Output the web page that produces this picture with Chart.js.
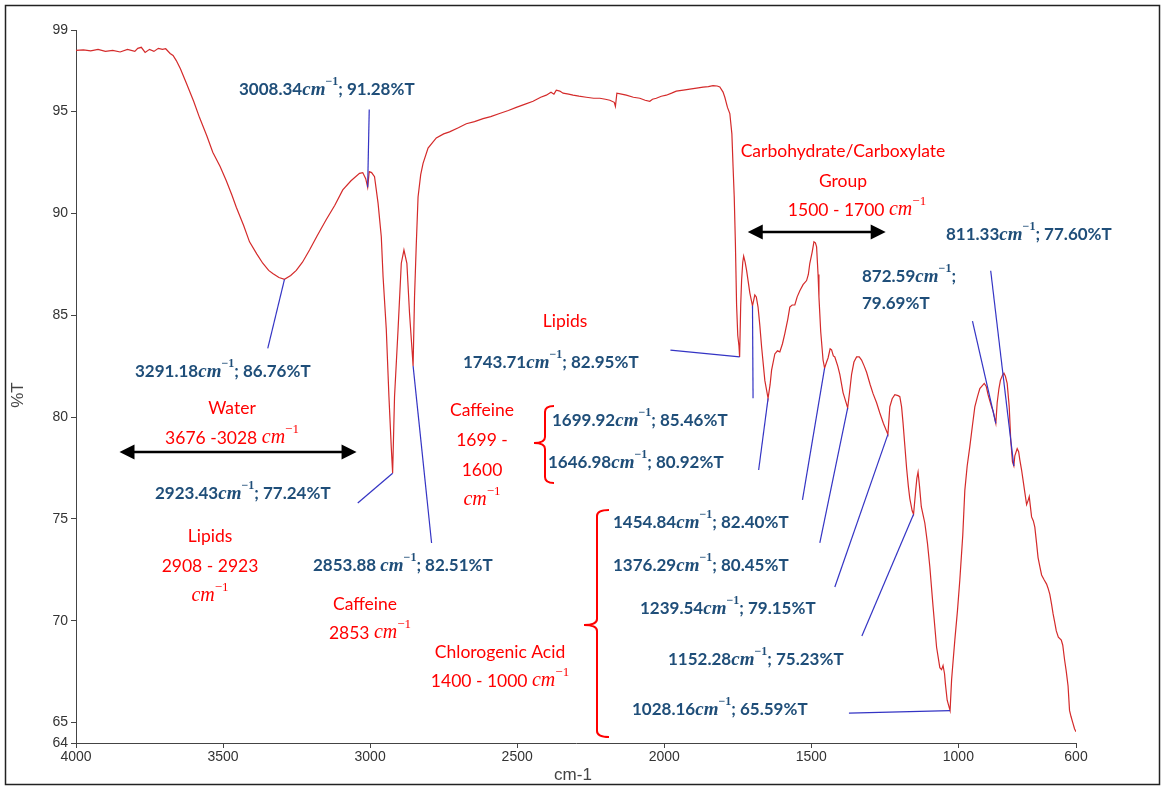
<!DOCTYPE html>
<html>
<head>
<meta charset="utf-8">
<script src="https://cdn.jsdelivr.net/npm/chart.js@4.4.0/dist/chart.umd.min.js"></script>
<style>
  html, body { margin: 0; padding: 0; background: #fff; }
  canvas { display: block; }
</style>
</head>
<body>
<canvas id="ftir" width="1164" height="787"></canvas>
<script>
// spectrum
const wavenumbers = [
  4000, 3975, 3950, 3925, 3900, 3875, 3850, 3825, 3800, 3790, 3778, 3765, 3750, 3735, 3720, 3706, 3695, 3680, 3670, 3659,
  3645, 3625, 3600, 3580, 3555, 3535, 3510, 3489, 3470, 3455, 3430, 3410, 3385, 3365, 3345, 3331, 3310, 3291.18, 3270, 3251,
  3230, 3206, 3180, 3149, 3120, 3093, 3065, 3036, 3025, 3015, 3008.34, 3003, 2995, 2985, 2973, 2962, 2956, 2945, 2936, 2928,
  2923.43, 2917, 2905, 2894, 2885, 2875, 2866, 2857, 2853.88, 2849, 2843, 2837, 2828, 2820, 2803, 2775, 2750, 2730, 2700, 2673,
  2645, 2616, 2590, 2560, 2530, 2503, 2475, 2446, 2420, 2401, 2385, 2375, 2367, 2355, 2344, 2325, 2310, 2290, 2265, 2240,
  2219, 2200, 2185, 2170, 2166, 2161, 2145, 2129, 2105, 2083, 2065, 2049, 2040, 2027, 2010, 1993, 1975, 1959, 1935, 1913,
  1890, 1868, 1850, 1834, 1820, 1811, 1800, 1794, 1785, 1777, 1770, 1766, 1762, 1758, 1754, 1750, 1746, 1743.71, 1740, 1737,
  1733, 1730, 1725, 1720, 1714, 1709, 1699.92, 1692, 1687, 1681, 1675, 1669, 1658, 1646.98, 1640, 1635, 1624, 1615, 1607, 1598,
  1590, 1580, 1573, 1565, 1556, 1548, 1539, 1528, 1516, 1510, 1505, 1497, 1491, 1486, 1482, 1477, 1474, 1468, 1460, 1454.84,
  1448, 1443, 1436, 1431, 1425, 1420, 1410, 1403, 1392, 1376.29, 1370, 1363, 1355, 1346, 1337, 1329, 1320, 1312, 1300, 1290,
  1278, 1267, 1255, 1239.54, 1233, 1225, 1216, 1205, 1199, 1193, 1188, 1182, 1176, 1170, 1165, 1157, 1152.28, 1145, 1141, 1137,
  1132, 1126, 1120, 1114, 1105, 1097, 1086, 1074, 1063, 1057, 1052, 1047, 1044, 1038, 1028.16, 1023, 1018, 1012, 1003, 995,
  985, 978, 970, 961, 952, 944, 935, 927, 912, 905, 899, 893, 887, 882, 872.59, 868, 862, 857, 850, 845,
  840, 834, 827, 822, 816, 811.33, 808, 800, 795, 791, 785, 780, 774, 768, 763, 759, 755, 751, 745, 740,
  734, 729, 722, 717, 708, 700, 695, 689, 683, 678, 672, 667, 660, 650, 645, 639, 633, 627, 622, 617,
  611, 605, 600
];
const transmittance = [
  98.0, 98.02, 97.98, 98.05, 97.95, 98.0, 97.92, 98.05, 97.95, 98.1, 98.15, 97.9, 98.05, 97.95, 98.1, 98.05, 98.08, 97.85, 97.75, 97.5,
  97.1, 96.4, 95.5, 94.7, 93.8, 93.0, 92.3, 91.6, 90.9, 90.3, 89.4, 88.6, 88.0, 87.55, 87.2, 87.05, 86.85, 86.76, 86.95, 87.2,
  87.6, 88.2, 88.9, 89.7, 90.4, 91.15, 91.6, 91.96, 92.0, 91.7, 91.28, 92.05, 92.0, 91.8, 90.5, 88.85, 86.9, 84.3, 81.0, 78.5,
  77.24, 81.0, 84.3, 87.55, 88.2, 87.55, 85.1, 83.2, 82.51, 85.9, 88.5, 90.8, 91.9, 92.45, 93.2, 93.7, 93.9, 94.0, 94.2, 94.4,
  94.5, 94.65, 94.75, 94.9, 95.05, 95.2, 95.35, 95.5, 95.7, 95.8, 95.95, 95.85, 96.05, 96.0, 95.9, 95.85, 95.8, 95.75, 95.7, 95.65,
  95.65, 95.6, 95.55, 95.45, 95.25, 95.9, 95.85, 95.8, 95.7, 95.65, 95.55, 95.5, 95.6, 95.65, 95.75, 95.8, 95.9, 96.0, 96.05, 96.1,
  96.15, 96.2, 96.22, 96.27, 96.25, 96.2, 95.95, 95.7, 95.2, 94.9, 93.9, 92.3, 90.8, 88.5, 85.5, 84.0, 83.5, 82.95, 85.5, 86.7,
  87.6, 87.9, 87.6, 87.2, 86.6, 86.1, 85.46, 86.0, 85.9, 85.4, 84.5, 83.45, 81.8, 80.92, 81.6, 82.3, 83.1, 83.25, 83.2, 83.6,
  84.1, 84.8, 85.4, 85.5, 85.5, 85.9, 86.2, 86.5, 86.7, 87.0, 87.55, 88.1, 88.6, 88.55, 88.35, 87.0, 85.9, 84.2, 82.8, 82.40,
  82.7, 82.9, 83.35, 83.3, 83.0, 82.95, 82.5, 82.1, 81.2, 80.45, 81.2, 82.1, 82.7, 82.95, 82.95, 82.8, 82.5, 82.2, 81.6, 81.15,
  80.7, 80.2, 79.7, 79.15, 80.5, 80.9, 81.1, 81.05, 81.0, 80.5, 79.7, 78.6, 77.5, 76.6, 76.0, 75.4, 75.23, 76.4, 77.0, 77.3,
  76.6, 75.6, 75.2, 74.8, 73.8, 72.65, 70.7, 68.7, 67.7, 67.6, 67.8, 67.4, 66.9, 66.1, 65.59, 67.1, 68.0, 69.05, 70.5, 72.0,
  74.2, 76.4, 77.6, 78.55, 79.6, 80.5, 81.0, 81.4, 81.65, 81.5, 81.1, 80.8, 80.5, 80.3, 79.69, 80.7, 81.4, 81.8, 82.05, 82.15,
  82.0, 81.65, 80.5, 78.9, 77.8, 77.60, 78.1, 78.45, 78.3, 77.9, 77.4, 76.9, 76.3, 75.7, 75.9, 76.1, 75.6, 75.1, 74.9, 74.6,
  73.8, 73.1, 72.6, 72.25, 72.0, 71.8, 71.6, 71.3, 70.8, 70.35, 69.9, 69.5, 69.2, 69.05, 68.8, 68.1, 67.5, 66.8, 65.6, 65.3,
  65.0, 64.7, 64.55
];

// labelled peaks
const peakWavenumbers = [3008.34, 3291.18, 2923.43, 2853.88, 1743.71, 1699.92, 1646.98, 1454.84, 1376.29, 1239.54, 1152.28, 1028.16, 872.59, 811.33];
const peakTransmittance = [91.28, 86.76, 77.24, 82.51, 82.95, 85.46, 80.92, 82.40, 80.45, 79.15, 75.23, 65.59, 79.69, 77.60];

const xTicks = [4000, 3500, 3000, 2500, 2000, 1500, 1000, 600];
const yTicks = [99, 95, 90, 85, 80, 75, 70, 65, 64];

// free end of each leader line (wavenumber, %T), same order as the peaks
const leaderEnds = [
  [3003, 95.1], [3348, 83.37], [3042, 75.78], [2791, 73.82], [1979, 83.29], [1698, 80.92], [1679, 77.4],
  [1530, 75.93], [1471, 73.82], [1420, 71.66], [1328, 69.25], [1372, 65.47], [952, 84.71], [890, 87.18]
];

// label boxes in page pixels: left x, middle y
const peakLabelPos = [
  [239, 90], [135, 372], [155, 494], [313, 566], [463, 363], [552, 421], [548, 463],
  [613, 523], [613, 566], [640, 609], [668, 660], [632, 710], [862, 277], [946, 235]
];

const BLUE = "#1f4e79";
const RED = "#ff0000";

const blueFonts = {
  num: "bold 17px Lato",
  cm: "italic bold 19px 'Liberation Serif'",
  sup: "bold 12px 'Liberation Serif'"
};
const redFonts = {
  num: "17.5px Lato",
  cm: "italic 20px 'Liberation Serif'",
  sup: "13px 'Liberation Serif'"
};

function drawRich(ctx, x, y, segs, align) {
  let w = 0;
  segs.forEach(s => { ctx.font = s.font; s.w = ctx.measureText(s.text).width; w += s.w; });
  let cx = align === "center" ? x - w / 2 : x;
  segs.forEach(s => {
    ctx.font = s.font;
    ctx.fillText(s.text, cx, y + (s.rise || 0));
    cx += s.w;
  });
}

function cmSegs(f, before, after) {
  const segs = [];
  if (before) segs.push({ text: before, font: f.num });
  segs.push({ text: "cm", font: f.cm });
  segs.push({ text: "\u22121", font: f.sup, rise: -8 });
  if (after) segs.push({ text: after, font: f.num });
  return segs;
}

// red group labels: centre x, middle y, rich parts
const groupLabels = [
  { x: 843, y: 151, segs: [{ text: "Carbohydrate/Carboxylate", font: redFonts.num }] },
  { x: 843, y: 181, segs: [{ text: "Group", font: redFonts.num }] },
  { x: 857, y: 210, segs: cmSegs(redFonts, "1500 - 1700 ", "") },
  { x: 565, y: 321, segs: [{ text: "Lipids", font: redFonts.num }] },
  { x: 232, y: 408, segs: [{ text: "Water", font: redFonts.num }] },
  { x: 232, y: 438, segs: cmSegs(redFonts, "3676 -3028 ", "") },
  { x: 482, y: 410, segs: [{ text: "Caffeine", font: redFonts.num }] },
  { x: 482, y: 440, segs: [{ text: "1699 -", font: redFonts.num }] },
  { x: 482, y: 470, segs: [{ text: "1600", font: redFonts.num }] },
  { x: 482, y: 500, segs: cmSegs(redFonts, "", "") },
  { x: 210, y: 536, segs: [{ text: "Lipids", font: redFonts.num }] },
  { x: 210, y: 566, segs: [{ text: "2908 - 2923", font: redFonts.num }] },
  { x: 210, y: 596, segs: cmSegs(redFonts, "", "") },
  { x: 365, y: 604, segs: [{ text: "Caffeine", font: redFonts.num }] },
  { x: 370, y: 633, segs: cmSegs(redFonts, "2853 ", "") },
  { x: 500, y: 652, segs: [{ text: "Chlorogenic Acid", font: redFonts.num }] },
  { x: 500, y: 681, segs: cmSegs(redFonts, "1400 - 1000 ", "") }
];

// double arrows, in data units: from wn, to wn, %T
const rangeArrows = [[3852, 3046, 78.28], [1716, 1247, 89.08]];

// curly braces in pixels: x of stem, top y, bottom y, tip x, tip y, hook x
const braces = [
  [545, 406, 483, 534, 443, 554],
  [597, 510, 737, 584, 625, 609]
];

function drawArrowHead(ctx, x, y, dir) {
  ctx.beginPath();
  ctx.moveTo(x, y);
  ctx.lineTo(x - dir * 15, y - 7.5);
  ctx.lineTo(x - dir * 15, y + 7.5);
  ctx.closePath();
  ctx.fill();
}

function drawBrace(ctx, b) {
  const [sx, top, bot, tx, ty, hx] = b;
  ctx.beginPath();
  ctx.moveTo(hx, top);
  ctx.quadraticCurveTo(sx, top, sx, top + 6);
  ctx.lineTo(sx, ty - 6);
  ctx.quadraticCurveTo(sx, ty, tx, ty);
  ctx.quadraticCurveTo(sx, ty, sx, ty + 6);
  ctx.lineTo(sx, bot - 6);
  ctx.quadraticCurveTo(sx, bot, hx, bot);
  ctx.stroke();
}

const annotate = {
  id: "annotate",
  beforeDraw(chart) {
    const c = chart.ctx;
    c.save();
    c.fillStyle = "#fff";
    c.fillRect(0, 0, chart.width, chart.height);
    c.restore();
  },
  afterDraw(chart) {
    const c = chart.ctx;
    const xs = chart.scales.x, ys = chart.scales.y;
    c.save();

    // leader lines
    c.strokeStyle = "#3434c4";
    c.lineWidth = 1.2;
    peakWavenumbers.forEach((w, i) => {
      c.beginPath();
      c.moveTo(xs.getPixelForValue(w), ys.getPixelForValue(peakTransmittance[i]));
      c.lineTo(xs.getPixelForValue(leaderEnds[i][0]), ys.getPixelForValue(leaderEnds[i][1]));
      c.stroke();
    });

    // peak labels
    c.fillStyle = BLUE;
    c.textBaseline = "middle";
    peakWavenumbers.forEach((w, i) => {
      const [lx, ly] = peakLabelPos[i];
      const wn = w.toFixed(2) + (w === 2853.88 ? " " : "");
      const t = peakTransmittance[i].toFixed(2) + "%T";
      if (w === 872.59) {
        drawRich(c, lx, ly, cmSegs(blueFonts, wn, ";"), "left");
        drawRich(c, lx, ly + 27, [{ text: t, font: blueFonts.num }], "left");
      } else {
        drawRich(c, lx, ly, cmSegs(blueFonts, wn, "; " + t), "left");
      }
    });

    // group labels
    c.fillStyle = RED;
    groupLabels.forEach(g => drawRich(c, g.x, g.y, g.segs, "center"));

    // range arrows
    c.strokeStyle = "#000";
    c.fillStyle = "#000";
    c.lineWidth = 2.5;
    rangeArrows.forEach(([a, b, t]) => {
      const x1 = xs.getPixelForValue(a), x2 = xs.getPixelForValue(b), y = ys.getPixelForValue(t);
      c.beginPath();
      c.moveTo(x1 + 10, y);
      c.lineTo(x2 - 10, y);
      c.stroke();
      drawArrowHead(c, x1, y, -1);
      drawArrowHead(c, x2, y, 1);
    });

    // braces
    c.strokeStyle = RED;
    c.lineWidth = 2;
    braces.forEach(b => drawBrace(c, b));

    // axis titles
    c.fillStyle = "#444";
    c.font = "17px 'Liberation Sans'";
    c.textAlign = "center";
    c.fillText("cm-1", 573, 775);
    c.translate(18, 395);
    c.rotate(-Math.PI / 2);
    c.fillText("%T", 0, 0);
    c.restore();

    // outer frame
    c.save();
    c.strokeStyle = "#222";
    c.lineWidth = 1.5;
    c.strokeRect(5.5, 5.5, 1154, 779);
    c.restore();
  }
};

const tickFont = { family: "'Liberation Sans', Arial, sans-serif", size: 14 };

new Chart(document.getElementById("ftir"), {
  type: "line",
  data: {
    datasets: [{
      data: wavenumbers.map((w, i) => ({ x: w, y: transmittance[i] })),
      borderColor: "#d42a2a",
      borderWidth: 1.2,
      pointRadius: 0,
      tension: 0,
      fill: false
    }]
  },
  options: {
    responsive: false,
    animation: false,
    layout: { padding: { top: 30, right: 88, left: 0, bottom: 0 } },
    plugins: { legend: { display: false }, tooltip: { enabled: false } },
    scales: {
      x: {
        type: "linear",
        reverse: true,
        min: 600,
        max: 4000,
        afterBuildTicks: s => { s.ticks = xTicks.map(v => ({ value: v })); },
        afterFit: s => { s.height = 44; },
        grid: { drawOnChartArea: false, tickLength: 5, color: "#444" },
        border: { color: "#444" },
        ticks: { font: tickFont, color: "#333", padding: 1, maxRotation: 0, autoSkip: false, callback: v => String(v) }
      },
      y: {
        min: 64,
        max: 99,
        afterBuildTicks: s => { s.ticks = yTicks.map(v => ({ value: v })); },
        afterFit: s => { s.width = 76; },
        grid: { drawOnChartArea: false, tickLength: 5, color: "#444" },
        border: { color: "#444" },
        ticks: { font: tickFont, color: "#333", padding: 3, autoSkip: false, callback: v => String(v) }
      }
    }
  },
  plugins: [annotate]
});
</script>
</body>
</html>
